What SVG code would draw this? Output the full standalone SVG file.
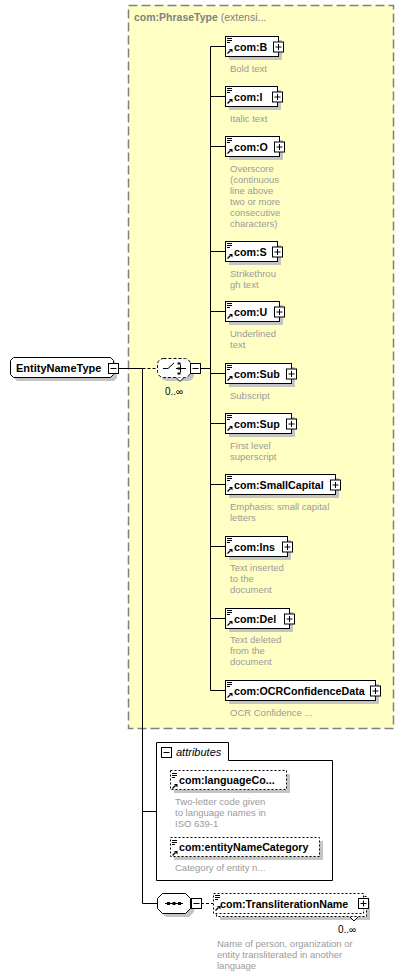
<svg xmlns="http://www.w3.org/2000/svg" xmlns:xlink="http://www.w3.org/1999/xlink" width="404" height="976" viewBox="0 0 404 976">
<style>
.lbl{font-family:"Liberation Sans",Arial,sans-serif;font-weight:bold;font-size:10.7px;fill:#000}
.desc{font-family:"Liberation Sans",Arial,sans-serif;font-size:9.5px;fill:#9a9a9a}
.node{fill:#fff;stroke:#000;stroke-width:1}
.opt{fill:#fff;stroke:#000;stroke-width:1;stroke-dasharray:2,2}
.shd{fill:#c4c4c4}
.box{fill:#fff;stroke:#000;stroke-width:1}
.ln{stroke:#000;stroke-width:1;fill:none}
.dln{stroke:#000;stroke-width:1;fill:none;stroke-dasharray:3,2}
.occ{font-family:"Liberation Sans",Arial,sans-serif;font-size:10px;fill:#000}
</style>
<defs>
<g id="ic">
<path d="M2,2.5h5M2,4.5h5M2,6.5h3" stroke="#000" stroke-width="1"/>
<path d="M2.5,17.5L5.5,14.5" stroke="#000" stroke-width="1.3"/>
<path d="M4,13L7.5,13L7.5,16.5Z" fill="#000"/>
</g>
<g id="plus">
<rect x="-5" y="-5" width="10" height="10" class="box"/>
<path d="M-3,0h6M0,-3v6" stroke="#000" stroke-width="1"/>
</g>
<g id="minus">
<rect x="-5" y="-5" width="10" height="10" class="box"/>
<path d="M-3,0h6" stroke="#000" stroke-width="1"/>
</g>
</defs>

<g id="phrasetype">
<rect x="128.5" y="5.5" width="265" height="723" fill="#ffffc4" stroke="#808080" stroke-width="1.5" stroke-dasharray="9,4"/>
<text x="134" y="21" font-family="Liberation Sans,Arial,sans-serif" font-size="10.5" fill="#808080"><tspan font-weight="bold">com:PhraseType</tspan> (extensi...</text>
</g>

<g id="connectors">
<path class="ln" d="M118,368.5H142.5"/>
<path class="dln" d="M142.5,368.5H157"/>
<path class="ln" d="M142.5,368.5V903.5H157"/>
<path class="ln" d="M142.5,811.5H156"/>
<path class="ln" d="M201,368.5H210.5"/>
<path class="ln" d="M210.5,46.5V690.5"/>
<path class="ln" d="M210.5,46.5H225M210.5,96.5H225M210.5,146.5H225M210.5,251.5H225M210.5,311.5H225M210.5,373.5H225M210.5,423.5H225M210.5,484.5H225M210.5,546.5H225M210.5,618.5H225M210.5,690.5H225"/>
<path class="dln" d="M201,903.5H213"/>
</g>

<g id="EntityNameType">
<path class="shd" d="M17,361H114L117,364V378L114,381H17L14,378V364Z"/>
<path class="node" d="M13.5,357.5H110.5L113.5,360.5V374.5L110.5,377.5H13.5L10.5,374.5V360.5Z"/>
<text class="lbl" x="16" y="372" style="font-size:11px">EntityNameType</text>
<use href="#minus" x="113.5" y="368.5"/>
</g>

<g id="choice">
<rect class="shd" x="161" y="362" width="33" height="19" rx="6"/>
<rect x="157.5" y="358.5" width="33" height="19" rx="6" fill="#fff" stroke="#000" stroke-dasharray="3,2"/>
<path d="M176,377.5L180,381.5L184,377.5" fill="#fff" stroke="#000"/>
<path class="ln" d="M163,368.5H168L174,363M176,368.5H182M180.5,364.5V372.5M182,368.5H186"/>
<rect x="177.5" y="362.5" width="3" height="2" fill="#000"/>
<rect x="177.5" y="367.5" width="3" height="2" fill="#000"/>
<rect x="177.5" y="372.5" width="3" height="2" fill="#000"/>
<use href="#minus" x="195.5" y="368.5"/>
<text class="occ" x="165" y="395">0..∞</text>
</g>

<g id="B">
<rect class="shd" x="229" y="40" width="53" height="20"/>
<rect class="node" x="225.5" y="36.5" width="53" height="20"/>
<use href="#ic" x="225" y="36"/>
<text class="lbl" x="234" y="51">com:B</text>
<use href="#plus" x="278.5" y="47"/>
<text class="desc" x="230" y="72">Bold text</text>
</g>

<g id="I">
<rect class="shd" x="229" y="90" width="52" height="20"/>
<rect class="node" x="225.5" y="86.5" width="52" height="20"/>
<use href="#ic" x="225" y="86"/>
<text class="lbl" x="234" y="101">com:I</text>
<use href="#plus" x="277.5" y="97"/>
<text class="desc" x="230" y="122">Italic text</text>
</g>

<g id="O">
<rect class="shd" x="229" y="140" width="54" height="20"/>
<rect class="node" x="225.5" y="136.5" width="54" height="20"/>
<use href="#ic" x="225" y="136"/>
<text class="lbl" x="234" y="151">com:O</text>
<use href="#plus" x="279.5" y="147"/>
<text class="desc" x="230" y="172">Overscore<tspan x="230" dy="11">(continuous</tspan><tspan x="230" dy="11">line above</tspan><tspan x="230" dy="11">two or more</tspan><tspan x="230" dy="11">consecutive</tspan><tspan x="230" dy="11">characters)</tspan></text>
</g>

<g id="S">
<rect class="shd" x="229" y="245" width="52" height="20"/>
<rect class="node" x="225.5" y="241.5" width="52" height="20"/>
<use href="#ic" x="225" y="241"/>
<text class="lbl" x="234" y="256">com:S</text>
<use href="#plus" x="277.5" y="252"/>
<text class="desc" x="230" y="277">Strikethrou<tspan x="230" dy="11">gh text</tspan></text>
</g>

<g id="U">
<rect class="shd" x="229" y="305" width="54" height="20"/>
<rect class="node" x="225.5" y="301.5" width="54" height="20"/>
<use href="#ic" x="225" y="301"/>
<text class="lbl" x="234" y="316">com:U</text>
<use href="#plus" x="279.5" y="312"/>
<text class="desc" x="230" y="337">Underlined<tspan x="230" dy="11">text</tspan></text>
</g>

<g id="Sub">
<rect class="shd" x="229" y="367" width="66" height="20"/>
<rect class="node" x="225.5" y="363.5" width="66" height="20"/>
<use href="#ic" x="225" y="363"/>
<text class="lbl" x="234" y="378">com:Sub</text>
<use href="#plus" x="291.5" y="374"/>
<text class="desc" x="230" y="399">Subscript</text>
</g>

<g id="Sup">
<rect class="shd" x="229" y="417" width="66" height="20"/>
<rect class="node" x="225.5" y="413.5" width="66" height="20"/>
<use href="#ic" x="225" y="413"/>
<text class="lbl" x="234" y="428">com:Sup</text>
<use href="#plus" x="291.5" y="424"/>
<text class="desc" x="230" y="449">First level<tspan x="230" dy="11">superscript</tspan></text>
</g>

<g id="SmallCapital">
<rect class="shd" x="229" y="478" width="110" height="20"/>
<rect class="node" x="225.5" y="474.5" width="110" height="20"/>
<use href="#ic" x="225" y="474"/>
<text class="lbl" x="234" y="489">com:SmallCapital</text>
<use href="#plus" x="335.5" y="485"/>
<text class="desc" x="230" y="510">Emphasis: small capital<tspan x="230" dy="11">letters</tspan></text>
</g>

<g id="Ins">
<rect class="shd" x="229" y="540" width="62" height="20"/>
<rect class="node" x="225.5" y="536.5" width="62" height="20"/>
<use href="#ic" x="225" y="536"/>
<text class="lbl" x="234" y="551">com:Ins</text>
<use href="#plus" x="287.5" y="547"/>
<text class="desc" x="230" y="571">Text inserted<tspan x="230" dy="11">to the</tspan><tspan x="230" dy="11">document</tspan></text>
</g>

<g id="Del">
<rect class="shd" x="229" y="612" width="64" height="20"/>
<rect class="node" x="225.5" y="608.5" width="64" height="20"/>
<use href="#ic" x="225" y="608"/>
<text class="lbl" x="234" y="623">com:Del</text>
<use href="#plus" x="289.5" y="619"/>
<text class="desc" x="230" y="643">Text deleted<tspan x="230" dy="11">from the</tspan><tspan x="230" dy="11">document</tspan></text>
</g>

<g id="OCRConfidenceData">
<rect class="shd" x="229" y="684" width="150" height="20"/>
<rect class="node" x="225.5" y="680.5" width="150" height="20"/>
<use href="#ic" x="225" y="680"/>
<text class="lbl" x="234" y="695">com:OCRConfidenceData</text>
<use href="#plus" x="375.5" y="691"/>
<text class="desc" x="230" y="716">OCR Confidence ...</text>
</g>

<g id="attributes">
<path class="ln" d="M156.5,742.5H228.5V760.5H332.5V880.5H156.5Z" fill="#fff"/>
<use href="#minus" x="166.5" y="752.5"/>
<text x="176" y="756" font-family="Liberation Sans,Arial,sans-serif" font-size="11" font-style="italic" fill="#000">attributes</text>
</g>

<g id="languageCode">
<rect class="shd" x="174" y="774" width="116" height="19"/>
<rect class="opt" x="170.5" y="770.5" width="116" height="19"/>
<use href="#ic" x="170" y="771"/>
<text class="lbl" x="179" y="784">com:languageCo...</text>
<text class="desc" x="175" y="805">Two-letter code given<tspan x="175" dy="11">to language names in</tspan><tspan x="175" dy="11">ISO 639-1</tspan></text>
</g>

<g id="entityNameCategory">
<rect class="shd" x="174" y="841" width="149" height="19"/>
<rect class="opt" x="170.5" y="837.5" width="149" height="19"/>
<use href="#ic" x="170" y="838"/>
<text class="lbl" x="179" y="851">com:entityNameCategory</text>
<text class="desc" x="175" y="871">Category of entity n...</text>
</g>

<g id="sequence">
<path class="shd" d="M166,897H189L194,902V912L189,917H166L161,912V902Z"/>
<path class="node" d="M162.5,893.5H185.5L190.5,898.5V908.5L185.5,913.5H162.5L157.5,908.5V898.5Z"/>
<path class="ln" d="M165,903.5H183"/>
<rect x="167" y="902" width="3" height="3" fill="#000"/>
<rect x="172.5" y="902" width="3" height="3" fill="#000"/>
<rect x="178" y="902" width="3" height="3" fill="#000"/>
<use href="#minus" x="196.5" y="903.5"/>
</g>

<g id="TransliterationName">
<rect class="shd" x="220" y="900" width="150" height="20"/>
<rect class="opt" x="216.5" y="896.5" width="150" height="20"/>
<rect class="opt" x="213.5" y="893.5" width="150" height="20"/>
<use href="#ic" x="213" y="893"/>
<text class="lbl" x="220" y="908">com:TransliterationName</text>
<use href="#plus" x="363.5" y="903.5"/>
<path d="M350,917L354,921L358,917" fill="#fff" stroke="#000"/>
<text class="occ" x="338" y="933">0..∞</text>
<text class="desc" x="217" y="947">Name of person, organization or<tspan x="217" dy="11">entity transliterated in another</tspan><tspan x="217" dy="11">language</tspan></text>
</g>
</svg>
